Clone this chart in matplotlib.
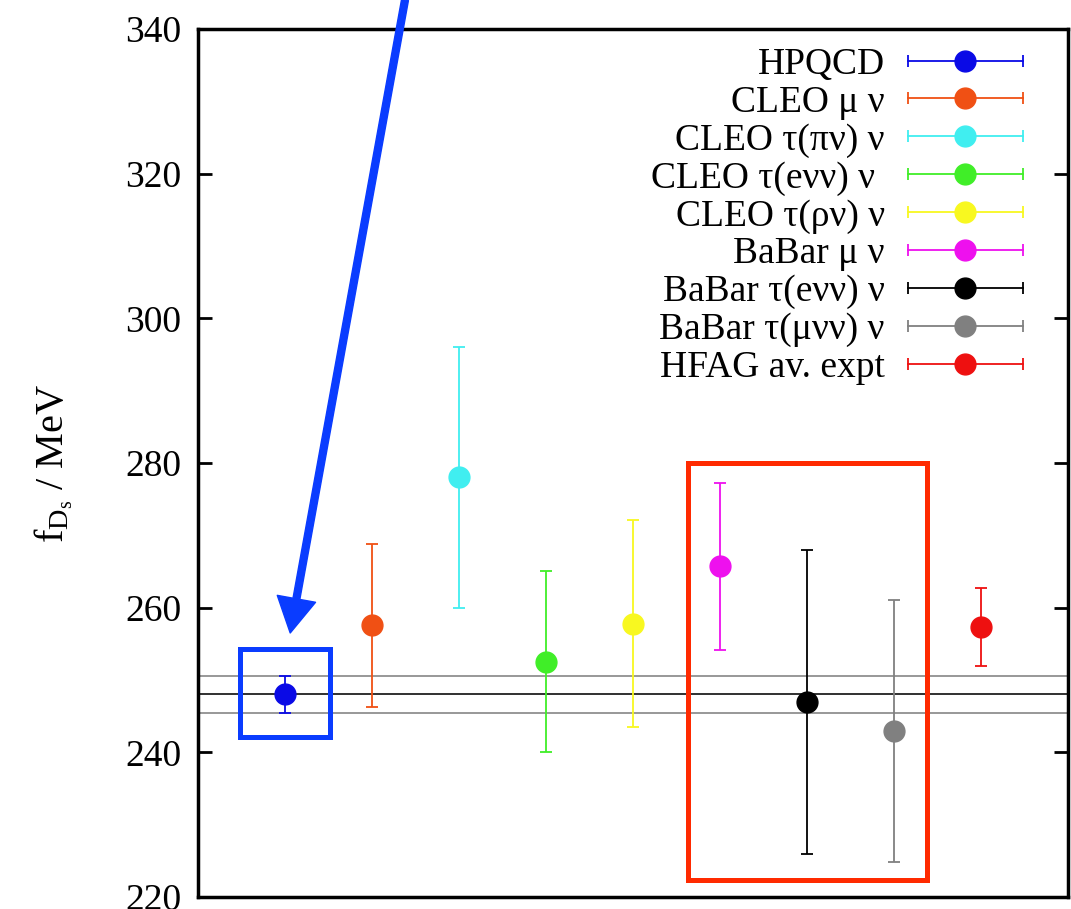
import numpy as np
import matplotlib
matplotlib.use("Agg")
import matplotlib.pyplot as plt
from matplotlib.lines import Line2D
from matplotlib.legend_handler import HandlerBase
from matplotlib.patches import Rectangle

plt.rcParams['font.family'] = ['Liberation Serif', 'DejaVu Serif']
plt.rcParams['mathtext.fontset'] = 'custom'
plt.rcParams['mathtext.rm'] = 'Liberation Serif'
plt.rcParams['mathtext.it'] = 'Liberation Serif:italic'

# datos
etiquetas = ['HPQCD', 'CLEO μ ν', 'CLEO τ(πν) ν', 'CLEO τ(eνν) ν ', 'CLEO τ(ρν) ν',
             'BaBar μ ν', 'BaBar τ(eνν) ν', 'BaBar τ(μνν) ν', 'HFAG av. expt']
posiciones = [1, 2, 3, 4, 5, 6, 7, 8, 9]
valores = [248.0, 257.6, 278.0, 252.5, 257.7, 265.7, 247.0, 242.9, 257.3]
err_sup = [2.5, 11.2, 18.1, 12.6, 14.4, 11.5, 21.0, 18.1, 5.4]
err_inf = [2.5, 11.3, 18.0, 12.4, 14.2, 11.5, 21.1, 18.0, 5.3]
colores = ['#0a0ae6', '#f05014', '#40eef0', '#40ee28', '#f8f820',
           '#ee10ee', '#000000', '#808080', '#ee1010']

# banda HPQCD
hpqcd_centro = 248.0
hpqcd_banda = [250.5, 245.5]

fig = plt.figure(figsize=(10.71, 9.09), dpi=100)
ax = fig.add_axes([198/1071, 12/909, 870/1071, 868/909])

ax.axhline(hpqcd_centro, color='#202020', lw=1.3, zorder=1)
for b in hpqcd_banda:
    ax.axhline(b, color='#909090', lw=1.3, zorder=1)

for i in range(len(valores)):
    ax.errorbar(posiciones[i], valores[i], yerr=[[err_inf[i]], [err_sup[i]]],
                fmt='o', color=colores[i], ecolor=colores[i], elinewidth=1.3,
                capsize=4.5, capthick=1.3, markersize=15, zorder=3,
                label=etiquetas[i])


class BarraHorizontal(HandlerBase):
    # leyenda estilo gnuplot: barra horizontal con topes y punto al medio
    def create_artists(self, legend, orig_handle, xdescent, ydescent,
                       width, height, fontsize, trans):
        c = orig_handle[0].get_color()
        y = height / 2 - ydescent
        x0 = -xdescent
        x1 = width - xdescent
        barra = Line2D([x0, x1], [y, y], color=c, lw=1.3, marker='|',
                       markersize=9, markeredgewidth=1.3, transform=trans)
        punto = Line2D([(x0 + x1) / 2], [y], color=c, marker='o',
                       markersize=15, linestyle='none', transform=trans)
        return [barra, punto]


handles, labels = ax.get_legend_handles_labels()
ax.legend(handles, labels, loc='upper right', bbox_to_anchor=(0.948, 0.979),
          frameon=False, fontsize=27, markerfirst=False, handlelength=3.07,
          handletextpad=0.61, labelspacing=0.09, borderaxespad=0, borderpad=0,
          handler_map={h: BarraHorizontal() for h in handles})

ax.set_xlim(0, 10)
ax.set_ylim(220, 340)
ax.set_yticks(np.arange(220, 341, 20))
ax.set_xticks([])
ax.tick_params(axis='y', direction='in', length=10, width=2, labelsize=27,
               right=True, pad=12)
for s in ax.spines.values():
    s.set_linewidth(2.5)
ax.set_ylabel(r'$\mathrm{f_{D_s}}$ / MeV', fontsize=29, labelpad=36)

# recuadros y flecha de la anotacion
ax.add_patch(Rectangle((0.483, 242.1), 1.034, 12.2, fill=False,
                       edgecolor='#0a3cff', lw=3.6, zorder=5))
ax.add_patch(Rectangle((5.632, 222.3), 2.747, 57.7, fill=False,
                       edgecolor='#ff2a00', lw=3.6, zorder=5))
ax.annotate('', xy=(1.06, 256.5), xytext=(405/1071, 1.0),
            xycoords='data', textcoords='figure fraction',
            arrowprops=dict(width=5, headwidth=28, headlength=25,
                            color='#0a3cff', shrink=0), zorder=6,
            annotation_clip=False)

plt.savefig('out.png', dpi=100)
